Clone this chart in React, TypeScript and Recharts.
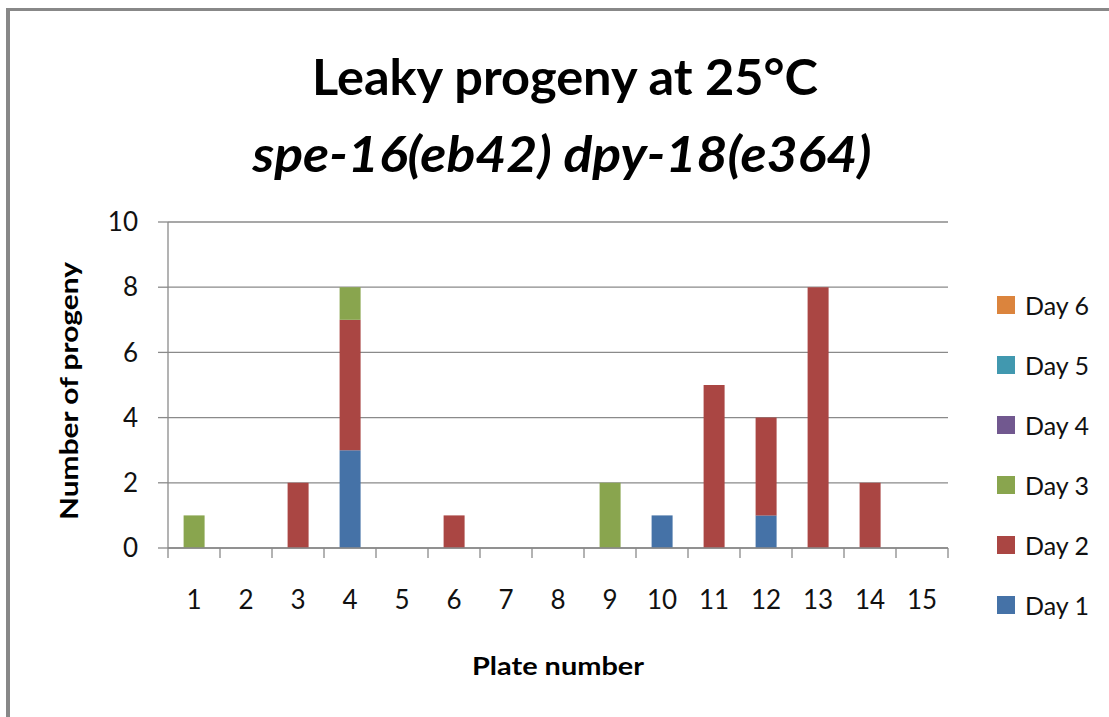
import React from 'react';
import { BarChart, Bar, XAxis, YAxis, CartesianGrid } from 'recharts';

const plates = ['1', '2', '3', '4', '5', '6', '7', '8', '9', '10', '11', '12', '13', '14', '15'];
const day1 = [0, 0, 0, 3, 0, 0, 0, 0, 0, 1, 0, 1, 0, 0, 0];
const day2 = [0, 0, 2, 4, 0, 1, 0, 0, 0, 0, 5, 3, 8, 2, 0];
const day3 = [1, 0, 0, 1, 0, 0, 0, 0, 2, 0, 0, 0, 0, 0, 0];
const day4 = [0, 0, 0, 0, 0, 0, 0, 0, 0, 0, 0, 0, 0, 0, 0];
const day5 = [0, 0, 0, 0, 0, 0, 0, 0, 0, 0, 0, 0, 0, 0, 0];
const day6 = [0, 0, 0, 0, 0, 0, 0, 0, 0, 0, 0, 0, 0, 0, 0];
const seriesKeys = ['day1', 'day2', 'day3', 'day4', 'day5', 'day6'];
const seriesNames = ['Day 1', 'Day 2', 'Day 3', 'Day 4', 'Day 5', 'Day 6'];
const seriesColors = ['#4572A7', '#AA4643', '#89A54E', '#71588F', '#4198AF', '#DB843D'];
const yTicks = [0, 2, 4, 6, 8, 10];

const titleLine1 = 'Leaky progeny at 25°C';
const titleLine2 = 'spe-16(eb42) dpy-18(e364)';
const yLabel = 'Number of progeny';
const xLabel = 'Plate number';

const seriesData = [day1, day2, day3, day4, day5, day6];
const data = plates.map((p, i) => {
  const row: Record<string, string | number> = { plate: p };
  seriesKeys.forEach((k, j) => {
    row[k] = seriesData[j][i];
  });
  return row;
});

const FONT = 'Lato, "Open Sans", sans-serif';
const AXIS_GRAY = '#8a8a8a';
const X_TICK_MARGIN = 43;
const X_TICK_LEN = 10;

const CatTick = (props: any) => {
  const { x, y, payload, index, visibleTicksCount } = props;
  const half = payload && typeof payload.offset === 'number' ? payload.offset : 26;
  const axisY = y - X_TICK_MARGIN;
  const isLast = index === (visibleTicksCount ?? plates.length) - 1;
  return (
    <g>
      <line x1={x - half} x2={x - half} y1={axisY} y2={axisY + X_TICK_LEN} stroke={AXIS_GRAY} strokeWidth={1.3} />
      {isLast && (
        <line x1={x + half} x2={x + half} y1={axisY} y2={axisY + X_TICK_LEN} stroke={AXIS_GRAY} strokeWidth={1.3} />
      )}
      <text x={x} y={y} dy="0.71em" textAnchor="middle" fontFamily={FONT} fontSize={26} fill="#111">
        {payload.value}
      </text>
    </g>
  );
};

const LegendBox = () => {
  const items = seriesNames.map((n, i) => ({ n, c: seriesColors[i] })).reverse();
  return (
    <div style={{ position: 'absolute', left: 997, top: 275, width: 112, fontFamily: FONT }}>
      {items.map((it) => (
        <div key={it.n} style={{ display: 'flex', alignItems: 'center', height: 60 }}>
          <div style={{ width: 18, height: 18, background: it.c, marginRight: 10 }} />
          <span style={{ fontSize: 25, color: '#111' }}>{it.n}</span>
        </div>
      ))}
    </div>
  );
};

export default function App() {
  return (
    <div style={{ position: 'absolute', left: 0, top: 0, width: 1109, height: 717, background: '#fff', overflow: 'hidden' }}>
      <div style={{ position: 'absolute', left: 6, top: 8, width: 1200, height: 800, borderLeft: '4px solid #888', borderTop: '3px solid #888' }} />
      <div style={{ position: 'absolute', left: 0, top: 0 }}>
        <BarChart
          width={1109}
          height={717}
          data={data}
          margin={{ top: 222, right: 161, bottom: 109, left: 98 }}
          barCategoryGap="30%"
        >
          <CartesianGrid vertical={false} stroke={AXIS_GRAY} strokeWidth={1.3} yAxisId="y" xAxisId="cat" />
          <XAxis
            xAxisId="cat"
            dataKey="plate"
            tickLine={false}
            tickSize={0}
            tickMargin={X_TICK_MARGIN}
            height={60}
            axisLine={{ stroke: AXIS_GRAY, strokeWidth: 1.3 }}
            tick={<CatTick />}
            interval={0}
          />
          <YAxis
            yAxisId="y"
            domain={[0, 10]}
            ticks={yTicks}
            width={70}
            tickSize={10}
            tickMargin={20}
            tickLine={{ stroke: AXIS_GRAY, strokeWidth: 1.3 }}
            axisLine={{ stroke: AXIS_GRAY, strokeWidth: 1.3 }}
            tick={{ fontFamily: FONT, fontSize: 26, fill: '#111' }}
            interval={0}
          />
          {seriesKeys.map((k, i) => (
            <Bar
              key={k}
              dataKey={k}
              name={seriesNames[i]}
              stackId="s"
              fill={seriesColors[i]}
              xAxisId="cat"
              yAxisId="y"
              isAnimationActive={false}
            />
          ))}
        </BarChart>
      </div>
      <LegendBox />
      <svg width={1109} height={717} style={{ position: 'absolute', left: 0, top: 0, pointerEvents: 'none' }}>
        <text x={565} y={95} textAnchor="middle" fontFamily={FONT} fontWeight={700} fontSize={50} fill="#000" textLength={506} lengthAdjust="spacingAndGlyphs">
          {titleLine1}
        </text>
        <text x={562} y={172} textAnchor="middle" fontFamily={FONT} fontWeight={700} fontStyle="italic" fontSize={50} fill="#000" textLength={619} lengthAdjust="spacingAndGlyphs">
          {titleLine2}
        </text>
        <text x={0} y={0} transform="translate(78 391) rotate(-90)" textAnchor="middle" fontFamily={FONT} fontWeight={700} fontSize={24} fill="#000" textLength={258} lengthAdjust="spacingAndGlyphs">
          {yLabel}
        </text>
        <text x={558} y={675} textAnchor="middle" fontFamily={FONT} fontWeight={700} fontSize={24} fill="#000" textLength={172} lengthAdjust="spacingAndGlyphs">
          {xLabel}
        </text>
      </svg>
    </div>
  );
}
